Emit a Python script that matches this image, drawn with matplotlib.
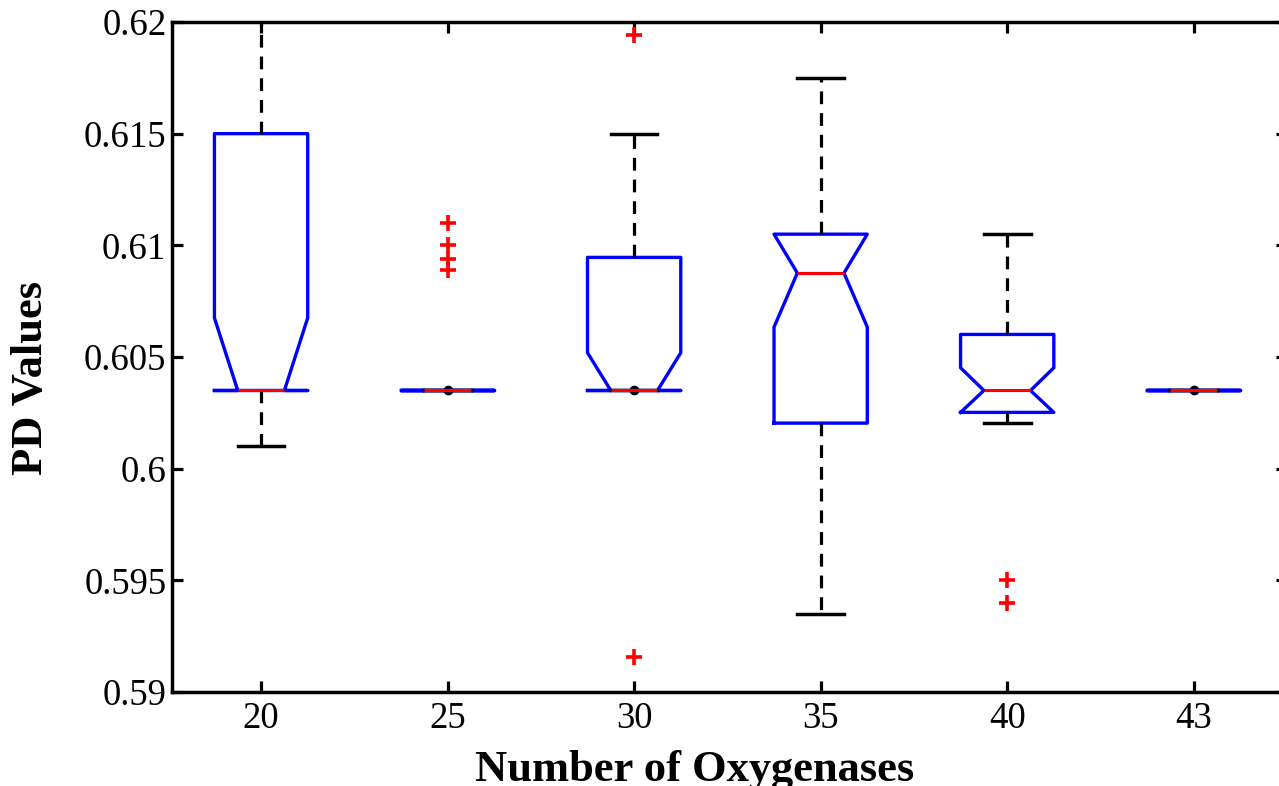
import matplotlib
matplotlib.use("Agg")
import matplotlib.pyplot as plt

# Aantal oxygenases (categorieën) en de boxplot-statistieken per groep
labels = ['20', '25', '30', '35', '40', '43']
medians = [0.6035, 0.6035, 0.6035, 0.60876, 0.6035, 0.6035]
q1 = [0.6035, 0.6035, 0.6035, 0.60204, 0.60252, 0.6035]
q3 = [0.615, 0.6035, 0.60946, 0.6105, 0.60601, 0.6035]
whis_lo = [0.60101, 0.6035, 0.6035, 0.59349, 0.60203, 0.6035]
whis_hi = [0.6230, 0.6035, 0.615, 0.61749, 0.6105, 0.6035]
notch_lo = [0.6035, 0.6035, 0.6035, 0.60634, 0.60252, 0.6035]
notch_hi = [0.60675, 0.6035, 0.60519, 0.6105, 0.60452, 0.6035]
outliers = [[], [0.611, 0.610, 0.6094, 0.6089], [0.6194, 0.59156], [], [0.595, 0.594], []]
dot_groups = [2, 3, 6]  # groepen met een zwart puntje op de mediaan

plt.rcParams['font.family'] = ['Liberation Serif', 'DejaVu Serif']

fig = plt.figure(figsize=(12.79, 7.86), dpi=100)
ax = fig.add_axes([172 / 1279, 1 - 692 / 786, 1115 / 1279, 670 / 786])

stats = []
for i in range(len(labels)):
    stats.append({'med': medians[i], 'q1': q1[i], 'q3': q3[i],
                  'whislo': whis_lo[i], 'whishi': whis_hi[i],
                  'cilo': notch_lo[i], 'cihi': notch_hi[i],
                  'fliers': outliers[i], 'label': labels[i]})

positions = list(range(1, len(labels) + 1))

# zwarte puntjes onder de box
ax.plot([positions[g - 1] for g in dot_groups], [medians[g - 1] for g in dot_groups],
        'o', color='black', markersize=6, zorder=1.5)

ax.bxp(stats, positions=positions, widths=0.5, shownotches=True,
       boxprops=dict(color='#0000ff', linewidth=2.4),
       medianprops=dict(color='#ff0000', linewidth=2.2),
       whiskerprops=dict(color='black', linewidth=2.3, linestyle=(0, (4, 2.8))),
       capprops=dict(color='black', linewidth=2.5),
       flierprops=dict(marker='+', markeredgecolor='#ff0000', markersize=11,
                       markeredgewidth=2.6, linestyle='none'))

ax.set_xlim(0.5225, 6.5)
ax.set_ylim(0.59, 0.62)
ax.set_yticks([0.59, 0.595, 0.6, 0.605, 0.61, 0.615, 0.62])
ax.set_yticklabels(['0.59', '0.595', '0.6', '0.605', '0.61', '0.615', '0.62'])

for s in ax.spines.values():
    s.set_linewidth(2.5)
ax.tick_params(direction='in', length=8, width=2.3, top=True, right=True,
               labelsize=26.5)
ax.tick_params(axis='x', pad=7)
ax.tick_params(axis='y', pad=4)

ax.set_xlabel('Number of Oxygenases', fontsize=32, fontweight='bold')
ax.set_ylabel('PD Values', fontsize=32, fontweight='bold')
ax.xaxis.set_label_coords((695 - 172) / 1115, -(750 - 692) / 670)
ax.yaxis.set_label_coords(-(172 - 51) / 1115, (692 - 378) / 670)

fig.savefig('out.png', dpi=100)
